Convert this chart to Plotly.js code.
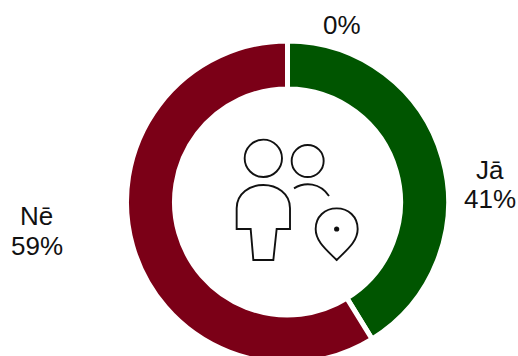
<!DOCTYPE html>
<html><head><meta charset="utf-8">
<script src="https://cdn.plot.ly/plotly-3.0.1.min.js"></script>
<style>html,body{margin:0;padding:0;overflow:hidden;background:#fff;width:518px;height:356px}</style>
</head><body><div id="chart"></div>
<script>
const categories = ["Jā", "Nē", ""];
const values = [41.2, 58.8, 0];
const colors = ["#005500", "#7b0017", "#999999"];
const labelCenters = [[490, 170, 199], [36.5, 216, 246], [342, null, 25]];

const W = 575, H = 363;
const fx = x => x / W, fy = y => 1 - y / H;
const zx = v => 220 + v / 3, zy = v => 130 + v / 3;
const pt = (x, y) => fx(zx(x)).toFixed(5) + "," + fy(zy(y)).toFixed(5);
const ink = {color: "#111111", width: 1.9};

function circle(cx, cy, r, filled) {
  const s = {type: "circle", xref: "paper", yref: "paper",
    x0: fx(zx(cx - r)), x1: fx(zx(cx + r)), y0: fy(zy(cy - r)), y1: fy(zy(cy + r)), line: ink};
  if (filled) s.fillcolor = "#000";
  return s;
}
function path(d) { return {type: "path", xref: "paper", yref: "paper", path: d, line: ink}; }

const shapes = [
  circle(130, 85, 56),
  circle(263, 93, 48),
  path(`M${pt(222, 175)} C${pt(255, 155)} ${pt(300, 158)} ${pt(327, 198)}`),
  path(`M${pt(92, 297)} L${pt(50, 297)} L${pt(50, 235)} C${pt(50, 190)} ${pt(90, 165)} ${pt(130, 165)} C${pt(170, 165)} ${pt(210, 190)} ${pt(210, 235)} L${pt(210, 297)} L${pt(170, 297)} L${pt(160, 390)} L${pt(100, 390)} Z`),
  path(`M${pt(350, 390)} C${pt(320, 360)} ${pt(287, 335)} ${pt(287, 297)} C${pt(287, 260)} ${pt(315, 235)} ${pt(350, 235)} C${pt(385, 235)} ${pt(413, 260)} ${pt(413, 297)} C${pt(413, 335)} ${pt(380, 360)} ${pt(350, 390)} Z`),
  circle(350, 297, 5, true)
];

const font = {family: "Liberation Sans, Arial, sans-serif", size: 26, color: "#111111"};
const annotations = [];
categories.forEach((c, i) => {
  const [x, yName, yPct] = labelCenters[i];
  const add = (text, y) => annotations.push({text, x: fx(x), y: fy(y), xref: "paper", yref: "paper",
    xanchor: "center", yanchor: "middle", showarrow: false, font});
  if (c) add(c, yName);
  add(Math.round(values[i]) + "%", yPct);
});

Plotly.newPlot("chart", [{
  type: "pie", labels: categories.map((c, i) => c || "–"), values, hole: 0.702, sort: false,
  direction: "clockwise", rotation: 0, textinfo: "none", showlegend: false, hoverinfo: "label+percent",
  marker: {colors, line: {color: "#fff", width: 5}},
  domain: {x: [0, 1], y: [0, 322 / H]}
}], {
  width: W, height: H, margin: {l: 0, r: 0, t: 0, b: 0},
  paper_bgcolor: "#fff", showlegend: false, shapes, annotations
}, {displayModeBar: false, staticPlot: true});
</script></body></html>
